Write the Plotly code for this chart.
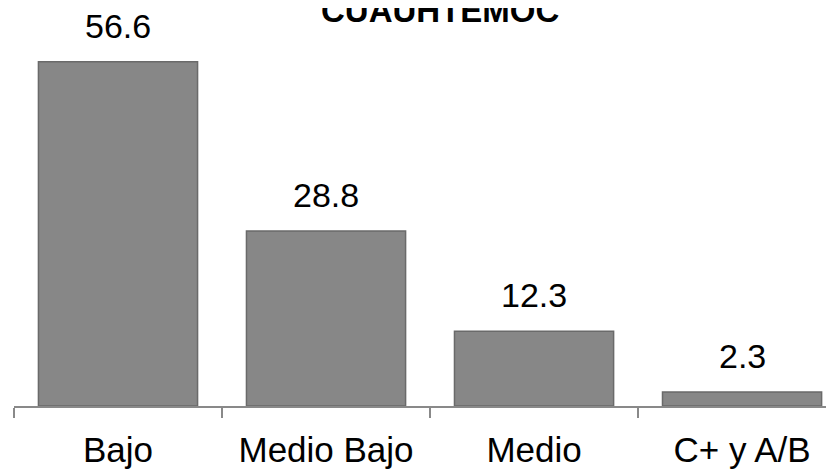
import plotly.graph_objects as go

categories = ["Bajo", "Medio Bajo", "Medio", "C+ y A/B"]
values = [56.6, 28.8, 12.3, 2.3]
value_labels = ["56.6", "28.8", "12.3", "2.3"]
title_text = "CUAUHTEMOC"

# page body has an 8px margin, so the figure is sized to fill the rest of the window
W, H = 826, 462
FONT = "Arial, 'Liberation Sans', sans-serif"
AXIS_Y = 398
LEFT = 6

fig = go.Figure()
fig.add_trace(go.Bar(
    x=categories, y=values,
    marker=dict(color="#878787", line=dict(color="#6a6a6a", width=1.5)),
    hoverinfo="x+y",
))

for c, v, t in zip(categories, values, value_labels):
    fig.add_annotation(x=c, y=v, xref="x", yref="y", text=t, showarrow=False,
                       yanchor="bottom", yshift=15,
                       font=dict(family=FONT, size=34, color="#000000"))

# title, partially above the top edge like the reference
fig.add_annotation(x=(432 - LEFT) / (W - LEFT), y=1.0, xref="paper", yref="paper",
                   text="<b>" + title_text + "</b>", showarrow=False,
                   yanchor="bottom", xanchor="center", yshift=-23,
                   font=dict(family=FONT, size=33, color="#000000"))

fig.update_layout(
    width=W, height=H,
    margin=dict(l=LEFT, r=0, t=0, b=H - AXIS_Y, autoexpand=False),
    plot_bgcolor="white", paper_bgcolor="white",
    bargap=0.235,
    showlegend=False,
    font=dict(family=FONT, color="#000000"),
)
fig.update_xaxes(
    range=[-0.5, 3.442], tickson="boundaries", ticks="outside", ticklen=10,
    tickcolor="#898989", tickwidth=1.5, showline=True, linecolor="#898989", linewidth=1.5,
    tickfont=dict(family=FONT, size=35, color="#000000"), showgrid=False,
    automargin=False, ticklabelstandoff=12,
)
fig.update_yaxes(range=[0, AXIS_Y / 6.08], visible=False, showgrid=False, automargin=False)

fig.write_html("out.html")
